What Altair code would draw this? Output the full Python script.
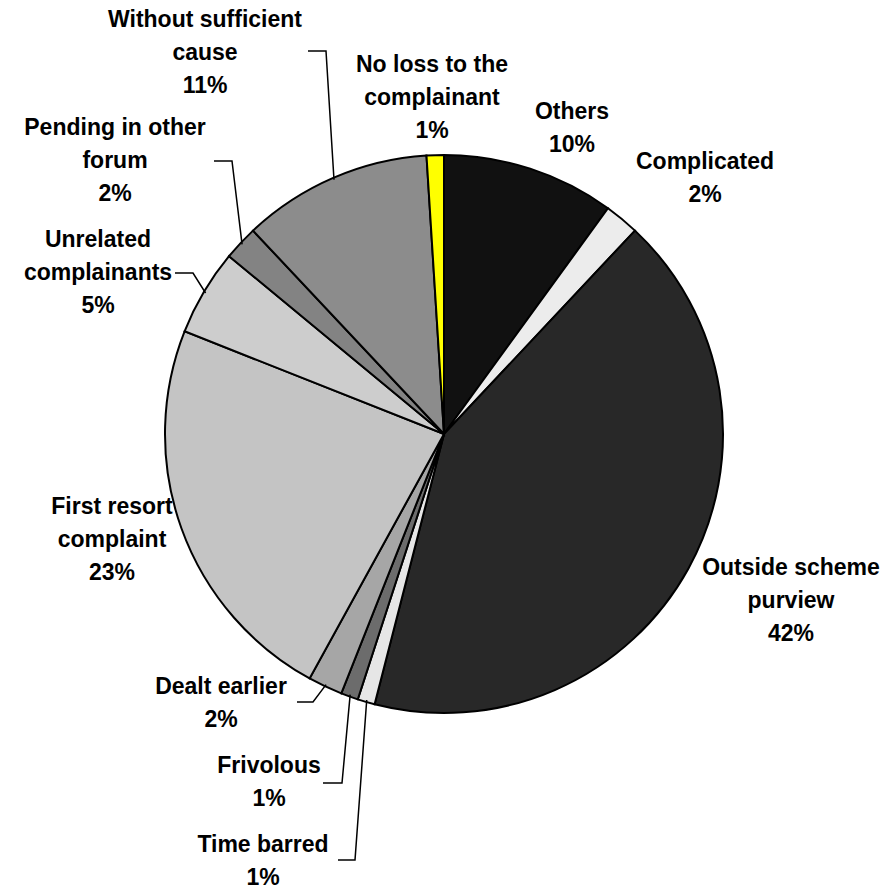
import math
import altair as alt
import pandas as pd

# ---- data ----
categories = ["Others", "Complicated", "Outside scheme purview", "Time barred",
              "Frivolous", "Dealt earlier", "First resort complaint",
              "Unrelated complainants", "Pending in other forum",
              "Without sufficient cause", "No loss to the complainant"]
shares = [10, 2, 42, 1, 1, 2, 23, 5, 2, 11, 1]
label_lines = [["Others"], ["Complicated"], ["Outside scheme", "purview"],
               ["Time barred"], ["Frivolous"], ["Dealt earlier"],
               ["First resort", "complaint"], ["Unrelated", "complainants"],
               ["Pending in other", "forum"], ["Without sufficient", "cause"],
               ["No loss to the", "complainant"]]
colors = ["#111111", "#ececec", "#282828", "#e6e6e6", "#6c6c6c", "#a6a6a6",
          "#c4c4c4", "#cdcdcd", "#838383", "#8c8c8c", "#ffff00"]

# ---- layout (first-line centre of each label) ----
W, H = 891, 890
CX, CY, R = 444, 434, 279
label_pos = [(572, 112), (705, 162), (791, 568), (263, 845), (269, 766),
             (221, 687), (112, 507), (98, 240), (115, 128), (205, 20), (432, 65)]
leader_pts = {
    "Without sufficient cause": [(308, 51), (326, 51)],
    "Pending in other forum": [(214, 161), (232, 161)],
    "Unrelated complainants": [(175, 273), (193, 273)],
    "Dealt earlier": [(297, 702), (313, 702)],
    "Frivolous": [(323, 783), (342, 783)],
    "Time barred": [(338, 860), (355, 860)],
}

slices = pd.DataFrame({
    "category": categories,
    "share": shares,
    "idx": list(range(len(categories))),
})

labels = pd.DataFrame({
    "label": ["\n".join(l + [f"{v}%"]) for l, v in zip(label_lines, shares)],
    "x": [p[0] for p in label_pos],
    "y": [p[1] for p in label_pos],
})

total = sum(shares)
rows = []
cum = 0
for cat, v in zip(categories, shares):
    mid = (cum + v / 2) / total * 2 * math.pi
    cum += v
    if cat in leader_pts:
        ex = CX + (R - 2) * math.sin(mid)
        ey = CY - (R - 2) * math.cos(mid)
        pts = leader_pts[cat] + [(ex, ey)]
        for i, (px, py) in enumerate(pts):
            rows.append({"cat": cat, "o": i, "x": px, "y": py})
leaders = pd.DataFrame(rows)

xs = alt.Scale(domain=[0, W], range=[0, W])
ys = alt.Scale(domain=[0, H], range=[0, H])

pie = alt.Chart(slices).mark_arc(
    outerRadius=R, stroke="black", strokeWidth=2
).encode(
    theta=alt.Theta("share:Q", stack=True),
    color=alt.Color("category:N", scale=alt.Scale(domain=categories, range=colors), legend=None),
    order=alt.Order("idx:Q"),
    x=alt.value(CX),
    y=alt.value(CY),
)

lines = alt.Chart(leaders).mark_line(color="black", strokeWidth=1.5).encode(
    x=alt.X("x:Q", scale=xs, axis=None),
    y=alt.Y("y:Q", scale=ys, axis=None),
    detail="cat:N",
    order="o:Q",
)

text = alt.Chart(labels).mark_text(
    font="Liberation Sans", fontWeight="bold", fontSize=23,
    lineBreak="\n", lineHeight=33, align="center", baseline="middle", color="black"
).encode(
    x=alt.X("x:Q", scale=xs, axis=None),
    y=alt.Y("y:Q", scale=ys, axis=None),
    text="label:N",
)

chart = alt.layer(pie, lines, text).properties(
    width=W, height=H, padding=0, autosize=alt.AutoSizeParams(type="none")
).configure_view(stroke=None)

chart.save("out.html", embed_options={"renderer": "svg", "actions": False})
